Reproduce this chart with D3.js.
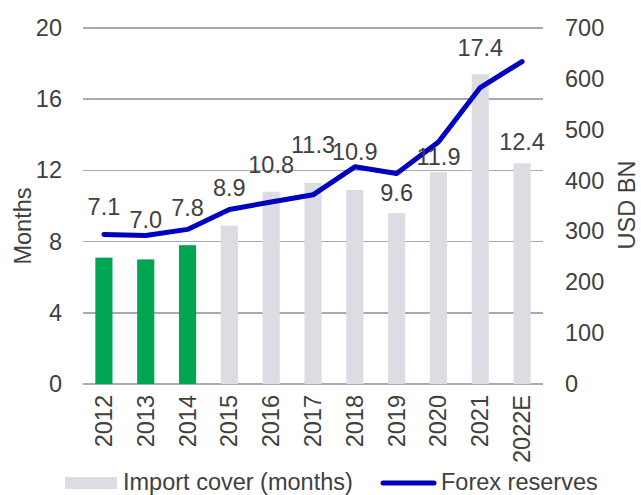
<!doctype html>
<html lang="en">
<head>
<meta charset="utf-8">
<title>Import cover and forex reserves</title>
<style>
	body { margin: 0; background: #fff; }
	text { font-family: "Liberation Sans", Arial, sans-serif; fill: #404040; }
	.grid line { stroke: #a8a8b8; stroke-width: 1.5; shape-rendering: crispEdges; }
</style>
</head>
<body>
<div id="viz"></div>
<script src="https://cdn.jsdelivr.net/npm/d3@7/dist/d3.min.js"></script>
<script>
// chart data
var years = ["2012", "2013", "2014", "2015", "2016", "2017", "2018", "2019", "2020", "2021", "2022E"];
var importCover = [7.1, 7.0, 7.8, 8.9, 10.8, 11.3, 10.9, 9.6, 11.9, 17.4, 12.4];
var forexReserves = [294, 292, 304, 343, 358, 372, 427, 414, 476, 583, 634];
var highlighted = ["2012", "2013", "2014"];
var leftTicks = [0, 4, 8, 12, 16, 20];
var rightTicks = [0, 100, 200, 300, 400, 500, 600, 700];

// how far each value label sits above its bar (hand placed in the original)
var labelLift = [51, 39, 37, 38, 27, 38, 38, 20, 15, 26, 21];

(function(d3) {

	var w = 641,
		h = 495;
	var margin = {top: 28, right: 98, bottom: 111, left: 83};
	var width = w - margin.left - margin.right,
		height = h - margin.top - margin.bottom;
	var fontSize = "23.5px";

	var svg = d3.select("#viz")
		.append("svg")
		.attr("width", w)
		.attr("height", h);

	var g = svg.append("g")
		.attr("transform", "translate(" + margin.left + "," + margin.top + ")");

	var xScale = d3.scaleBand()
		.domain(years)
		.range([0, width])
		.paddingInner(0.59)
		.paddingOuter(0.295);

	var yLeft = d3.scaleLinear().domain([0, 20]).range([height, 0]);
	var yRight = d3.scaleLinear().domain([0, 700]).range([height, 0]);

	// gridlines
	g.append("g")
		.attr("class", "grid")
		.selectAll("line")
		.data(leftTicks)
		.enter()
		.append("line")
		.attr("x1", 0)
		.attr("x2", width)
		.attr("y1", d => yLeft(d))
		.attr("y2", d => yLeft(d));

	// left axis
	var leftAxis = d3.axisLeft(yLeft).tickValues(leftTicks).tickSize(0).tickPadding(21);
	g.append("g")
		.call(leftAxis)
		.call(a => a.select(".domain").remove())
		.selectAll("text")
		.style("font-size", fontSize)
		.attr("fill", "#404040");

	// right axis
	var rightAxis = d3.axisRight(yRight).tickValues(rightTicks).tickSize(0).tickPadding(22);
	g.append("g")
		.attr("transform", "translate(" + width + ",0)")
		.call(rightAxis)
		.call(a => a.select(".domain").remove())
		.selectAll("text")
		.style("font-size", fontSize)
		.attr("fill", "#404040");

	// category axis, rotated labels
	var xAxis = d3.axisBottom(xScale).tickSize(0).tickPadding(0);
	g.append("g")
		.attr("transform", "translate(0," + height + ")")
		.call(xAxis)
		.call(a => a.select(".domain").remove())
		.selectAll("text")
		.style("font-size", fontSize)
		.attr("fill", "#404040")
		.attr("text-anchor", "end")
		.attr("dy", null)
		.attr("transform", "translate(0,11) rotate(-90)")
		.attr("x", 0)
		.attr("y", 0)
		.attr("dominant-baseline", "central");

	var rows = years.map((y, i) => ({year: y, cover: importCover[i], fx: forexReserves[i], lift: labelLift[i]}));

	// bars
	g.selectAll("rect.bar")
		.data(rows)
		.enter()
		.append("rect")
		.attr("class", "bar")
		.attr("x", d => xScale(d.year))
		.attr("width", xScale.bandwidth())
		.attr("y", d => yLeft(d.cover))
		.attr("height", d => height - yLeft(d.cover))
		.attr("fill", d => highlighted.indexOf(d.year) >= 0 ? "#00a551" : "#dcdde3");

	// line
	var line = d3.line()
		.x(d => xScale(d.year) + xScale.bandwidth() / 2)
		.y(d => yRight(d.fx));

	g.append("path")
		.datum(rows)
		.attr("d", line)
		.attr("fill", "none")
		.attr("stroke", "#0000c0")
		.attr("stroke-width", 5)
		.attr("stroke-linecap", "round")
		.attr("stroke-linejoin", "round");

	// value labels
	g.selectAll("text.val")
		.data(rows)
		.enter()
		.append("text")
		.attr("class", "val")
		.attr("x", d => xScale(d.year) + xScale.bandwidth() / 2)
		.attr("y", d => yLeft(d.cover) - d.lift)
		.attr("dominant-baseline", "central")
		.attr("text-anchor", "middle")
		.style("font-size", fontSize)
		.text(d => d.cover.toFixed(1));

	// axis titles
	svg.append("text")
		.attr("transform", "translate(23,226) rotate(-90)")
		.attr("text-anchor", "middle")
		.attr("dominant-baseline", "central")
		.style("font-size", fontSize)
		.text("Months");

	svg.append("text")
		.attr("transform", "translate(627,205) rotate(-90)")
		.attr("text-anchor", "middle")
		.attr("dominant-baseline", "central")
		.style("font-size", fontSize)
		.text("USD BN");

	// legend
	var legend = svg.append("g").attr("transform", "translate(0,482)");
	legend.append("rect")
		.attr("x", 65).attr("y", -5).attr("width", 52).attr("height", 12)
		.attr("fill", "#dcdde3");
	legend.append("text")
		.attr("x", 123).attr("y", 0)
		.attr("dominant-baseline", "central")
		.style("font-size", fontSize)
		.text("Import cover (months)");
	legend.append("line")
		.attr("x1", 383).attr("x2", 434).attr("y1", 1).attr("y2", 1)
		.attr("stroke", "#0000c0").attr("stroke-width", 5)
		.attr("stroke-linecap", "round");
	legend.append("text")
		.attr("x", 441).attr("y", 0)
		.attr("dominant-baseline", "central")
		.style("font-size", fontSize)
		.text("Forex reserves");

})(d3);
</script>
</body>
</html>
